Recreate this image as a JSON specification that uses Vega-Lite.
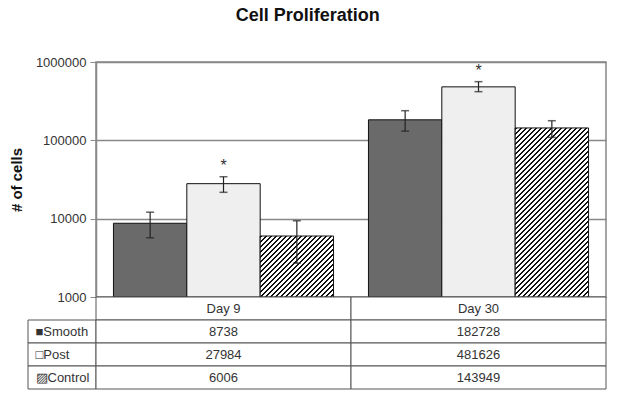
{
  "$schema": "https://vega.github.io/schema/vega-lite/v6.json",
  "background": "white",
  "padding": {"left": 8, "top": 7, "right": 5, "bottom": 5},
  "title": {"text": "Cell Proliferation", "anchor": "middle", "fontSize": 18, "fontWeight": "bold", "color": "#111", "font": "Liberation Sans", "offset": 30},
  "datasets": {
    "cells": [
      {"day": "Day 9", "series": "Smooth", "value": 8738, "lo": 5700, "hi": 12100, "sig": ""},
      {"day": "Day 9", "series": "Post", "value": 27984, "lo": 21700, "hi": 34300, "sig": "*"},
      {"day": "Day 9", "series": "Control", "value": 6006, "lo": 2700, "hi": 9400, "sig": ""},
      {"day": "Day 30", "series": "Smooth", "value": 182728, "lo": 131000, "hi": 239000, "sig": ""},
      {"day": "Day 30", "series": "Post", "value": 481626, "lo": 418000, "hi": 561000, "sig": "*"},
      {"day": "Day 30", "series": "Control", "value": 143949, "lo": 109000, "hi": 178000, "sig": ""}
    ]
  },
  "columns": 2,
  "spacing": 0,
  "bounds": "flush",
  "concat": [
    {
      "width": 68, "height": 235,
      "data": {"values": [{"a": 1}]},
      "mark": {"type": "text", "text": ""}
    },
    {
      "width": 510, "height": 235,
      "view": {"stroke": "#888", "strokeWidth": 1.5},
      "data": {"name": "cells"},
      "encoding": {
        "x": {"field": "day", "type": "nominal", "scale": {"domain": ["Day 9", "Day 30"], "paddingInner": 0.137, "paddingOuter": 0.0685}, "axis": null},
        "xOffset": {"field": "series", "type": "nominal", "scale": {"domain": ["Smooth", "Post", "Control"], "paddingInner": 0, "paddingOuter": 0}}
      },
      "layer": [
        {
          "transform": [{"filter": "datum.series != 'Control'"}],
          "mark": {"type": "bar", "stroke": "#111", "strokeWidth": 1},
          "encoding": {
            "y": {"field": "value", "type": "quantitative", "scale": {"type": "log", "domain": [1000, 1000000]},
              "axis": {"values": [1000, 10000, 100000, 1000000], "format": "d", "title": "# of cells", "titleFontSize": 15, "titleFontWeight": "bold", "titleColor": "#111", "titlePadding": 11, "labelFontSize": 13, "labelColor": "#333", "labelPadding": 4, "tickSize": 6, "tickColor": "#888", "domainColor": "#888", "domainWidth": 1.5, "grid": true, "gridColor": "#888", "gridWidth": 1.5}},
            "y2": {"datum": 1000},
            "color": {"field": "series", "type": "nominal", "scale": {"domain": ["Smooth", "Post"], "range": ["#6a6a6a", "#efefef"]}, "legend": null}
          }
        },
        {
          "transform": [{"filter": "datum.series == 'Control' && datum.day == 'Day 9'"}],
          "mark": {"type": "bar", "stroke": "#111", "strokeWidth": 1,
            "fill": {"gradient": "linear", "x1": 0, "y1": 0, "x2": 2.0148, "y2": 1.676, "stops": [
              {"offset":0,"color":"#111"},{"offset":0.01,"color":"#111"},{"offset":0.01,"color":"#fff"},{"offset":0.02,"color":"#fff"},
              {"offset":0.02,"color":"#111"},{"offset":0.03,"color":"#111"},{"offset":0.03,"color":"#fff"},{"offset":0.04,"color":"#fff"},
              {"offset":0.04,"color":"#111"},{"offset":0.05,"color":"#111"},{"offset":0.05,"color":"#fff"},{"offset":0.06,"color":"#fff"},
              {"offset":0.06,"color":"#111"},{"offset":0.07,"color":"#111"},{"offset":0.07,"color":"#fff"},{"offset":0.08,"color":"#fff"},
              {"offset":0.08,"color":"#111"},{"offset":0.09,"color":"#111"},{"offset":0.09,"color":"#fff"},{"offset":0.10,"color":"#fff"},
              {"offset":0.10,"color":"#111"},{"offset":0.11,"color":"#111"},{"offset":0.11,"color":"#fff"},{"offset":0.12,"color":"#fff"},
              {"offset":0.12,"color":"#111"},{"offset":0.13,"color":"#111"},{"offset":0.13,"color":"#fff"},{"offset":0.14,"color":"#fff"},
              {"offset":0.14,"color":"#111"},{"offset":0.15,"color":"#111"},{"offset":0.15,"color":"#fff"},{"offset":0.16,"color":"#fff"},
              {"offset":0.16,"color":"#111"},{"offset":0.17,"color":"#111"},{"offset":0.17,"color":"#fff"},{"offset":0.18,"color":"#fff"},
              {"offset":0.18,"color":"#111"},{"offset":0.19,"color":"#111"},{"offset":0.19,"color":"#fff"},{"offset":0.20,"color":"#fff"},
              {"offset":0.20,"color":"#111"},{"offset":0.21,"color":"#111"},{"offset":0.21,"color":"#fff"},{"offset":0.22,"color":"#fff"},
              {"offset":0.22,"color":"#111"},{"offset":0.23,"color":"#111"},{"offset":0.23,"color":"#fff"},{"offset":0.24,"color":"#fff"},
              {"offset":0.24,"color":"#111"},{"offset":0.25,"color":"#111"},{"offset":0.25,"color":"#fff"},{"offset":0.26,"color":"#fff"},
              {"offset":0.26,"color":"#111"},{"offset":0.27,"color":"#111"},{"offset":0.27,"color":"#fff"},{"offset":0.28,"color":"#fff"},
              {"offset":0.28,"color":"#111"},{"offset":0.29,"color":"#111"},{"offset":0.29,"color":"#fff"},{"offset":0.30,"color":"#fff"},
              {"offset":0.30,"color":"#111"},{"offset":0.31,"color":"#111"},{"offset":0.31,"color":"#fff"},{"offset":0.32,"color":"#fff"},
              {"offset":0.32,"color":"#111"},{"offset":0.33,"color":"#111"},{"offset":0.33,"color":"#fff"},{"offset":0.34,"color":"#fff"},
              {"offset":0.34,"color":"#111"},{"offset":0.35,"color":"#111"},{"offset":0.35,"color":"#fff"},{"offset":0.36,"color":"#fff"},
              {"offset":0.36,"color":"#111"},{"offset":0.37,"color":"#111"},{"offset":0.37,"color":"#fff"},{"offset":0.38,"color":"#fff"},
              {"offset":0.38,"color":"#111"},{"offset":0.39,"color":"#111"},{"offset":0.39,"color":"#fff"},{"offset":0.40,"color":"#fff"},
              {"offset":0.40,"color":"#111"},{"offset":0.41,"color":"#111"},{"offset":0.41,"color":"#fff"},{"offset":0.42,"color":"#fff"},
              {"offset":0.42,"color":"#111"},{"offset":0.43,"color":"#111"},{"offset":0.43,"color":"#fff"},{"offset":0.44,"color":"#fff"},
              {"offset":0.44,"color":"#111"},{"offset":0.45,"color":"#111"},{"offset":0.45,"color":"#fff"},{"offset":0.46,"color":"#fff"},
              {"offset":0.46,"color":"#111"},{"offset":0.47,"color":"#111"},{"offset":0.47,"color":"#fff"},{"offset":0.48,"color":"#fff"},
              {"offset":0.48,"color":"#111"},{"offset":0.49,"color":"#111"},{"offset":0.49,"color":"#fff"},{"offset":0.50,"color":"#fff"},
              {"offset":0.50,"color":"#111"},{"offset":0.51,"color":"#111"},{"offset":0.51,"color":"#fff"},{"offset":0.52,"color":"#fff"},
              {"offset":0.52,"color":"#111"},{"offset":0.53,"color":"#111"},{"offset":0.53,"color":"#fff"},{"offset":0.54,"color":"#fff"},
              {"offset":0.54,"color":"#111"},{"offset":0.55,"color":"#111"},{"offset":0.55,"color":"#fff"},{"offset":0.56,"color":"#fff"}
            ]}},
          "encoding": {"y": {"field": "value", "type": "quantitative"}, "y2": {"datum": 1000}}
        },
        {
          "transform": [{"filter": "datum.series == 'Control' && datum.day == 'Day 30'"}],
          "mark": {"type": "bar", "stroke": "#111", "strokeWidth": 1,
            "fill": {"gradient": "linear", "x1": 0, "y1": 0, "x2": 0.54016, "y2": 1.24489, "stops": [
              {"offset":0,"color":"#111"},{"offset":0.01,"color":"#111"},{"offset":0.01,"color":"#fff"},{"offset":0.02,"color":"#fff"},
              {"offset":0.02,"color":"#111"},{"offset":0.03,"color":"#111"},{"offset":0.03,"color":"#fff"},{"offset":0.04,"color":"#fff"},
              {"offset":0.04,"color":"#111"},{"offset":0.05,"color":"#111"},{"offset":0.05,"color":"#fff"},{"offset":0.06,"color":"#fff"},
              {"offset":0.06,"color":"#111"},{"offset":0.07,"color":"#111"},{"offset":0.07,"color":"#fff"},{"offset":0.08,"color":"#fff"},
              {"offset":0.08,"color":"#111"},{"offset":0.09,"color":"#111"},{"offset":0.09,"color":"#fff"},{"offset":0.10,"color":"#fff"},
              {"offset":0.10,"color":"#111"},{"offset":0.11,"color":"#111"},{"offset":0.11,"color":"#fff"},{"offset":0.12,"color":"#fff"},
              {"offset":0.12,"color":"#111"},{"offset":0.13,"color":"#111"},{"offset":0.13,"color":"#fff"},{"offset":0.14,"color":"#fff"},
              {"offset":0.14,"color":"#111"},{"offset":0.15,"color":"#111"},{"offset":0.15,"color":"#fff"},{"offset":0.16,"color":"#fff"},
              {"offset":0.16,"color":"#111"},{"offset":0.17,"color":"#111"},{"offset":0.17,"color":"#fff"},{"offset":0.18,"color":"#fff"},
              {"offset":0.18,"color":"#111"},{"offset":0.19,"color":"#111"},{"offset":0.19,"color":"#fff"},{"offset":0.20,"color":"#fff"},
              {"offset":0.20,"color":"#111"},{"offset":0.21,"color":"#111"},{"offset":0.21,"color":"#fff"},{"offset":0.22,"color":"#fff"},
              {"offset":0.22,"color":"#111"},{"offset":0.23,"color":"#111"},{"offset":0.23,"color":"#fff"},{"offset":0.24,"color":"#fff"},
              {"offset":0.24,"color":"#111"},{"offset":0.25,"color":"#111"},{"offset":0.25,"color":"#fff"},{"offset":0.26,"color":"#fff"},
              {"offset":0.26,"color":"#111"},{"offset":0.27,"color":"#111"},{"offset":0.27,"color":"#fff"},{"offset":0.28,"color":"#fff"},
              {"offset":0.28,"color":"#111"},{"offset":0.29,"color":"#111"},{"offset":0.29,"color":"#fff"},{"offset":0.30,"color":"#fff"},
              {"offset":0.30,"color":"#111"},{"offset":0.31,"color":"#111"},{"offset":0.31,"color":"#fff"},{"offset":0.32,"color":"#fff"},
              {"offset":0.32,"color":"#111"},{"offset":0.33,"color":"#111"},{"offset":0.33,"color":"#fff"},{"offset":0.34,"color":"#fff"},
              {"offset":0.34,"color":"#111"},{"offset":0.35,"color":"#111"},{"offset":0.35,"color":"#fff"},{"offset":0.36,"color":"#fff"},
              {"offset":0.36,"color":"#111"},{"offset":0.37,"color":"#111"},{"offset":0.37,"color":"#fff"},{"offset":0.38,"color":"#fff"},
              {"offset":0.38,"color":"#111"},{"offset":0.39,"color":"#111"},{"offset":0.39,"color":"#fff"},{"offset":0.40,"color":"#fff"},
              {"offset":0.40,"color":"#111"},{"offset":0.41,"color":"#111"},{"offset":0.41,"color":"#fff"},{"offset":0.42,"color":"#fff"},
              {"offset":0.42,"color":"#111"},{"offset":0.43,"color":"#111"},{"offset":0.43,"color":"#fff"},{"offset":0.44,"color":"#fff"},
              {"offset":0.44,"color":"#111"},{"offset":0.45,"color":"#111"},{"offset":0.45,"color":"#fff"},{"offset":0.46,"color":"#fff"},
              {"offset":0.46,"color":"#111"},{"offset":0.47,"color":"#111"},{"offset":0.47,"color":"#fff"},{"offset":0.48,"color":"#fff"},
              {"offset":0.48,"color":"#111"},{"offset":0.49,"color":"#111"},{"offset":0.49,"color":"#fff"},{"offset":0.50,"color":"#fff"},
              {"offset":0.50,"color":"#111"},{"offset":0.51,"color":"#111"},{"offset":0.51,"color":"#fff"},{"offset":0.52,"color":"#fff"},
              {"offset":0.52,"color":"#111"},{"offset":0.53,"color":"#111"},{"offset":0.53,"color":"#fff"},{"offset":0.54,"color":"#fff"},
              {"offset":0.54,"color":"#111"},{"offset":0.55,"color":"#111"},{"offset":0.55,"color":"#fff"},{"offset":0.56,"color":"#fff"},
              {"offset":0.56,"color":"#111"},{"offset":0.57,"color":"#111"},{"offset":0.57,"color":"#fff"},{"offset":0.58,"color":"#fff"},
              {"offset":0.58,"color":"#111"},{"offset":0.59,"color":"#111"},{"offset":0.59,"color":"#fff"},{"offset":0.60,"color":"#fff"},
              {"offset":0.60,"color":"#111"},{"offset":0.61,"color":"#111"},{"offset":0.61,"color":"#fff"},{"offset":0.62,"color":"#fff"},
              {"offset":0.62,"color":"#111"},{"offset":0.63,"color":"#111"},{"offset":0.63,"color":"#fff"},{"offset":0.64,"color":"#fff"},
              {"offset":0.64,"color":"#111"},{"offset":0.65,"color":"#111"},{"offset":0.65,"color":"#fff"},{"offset":0.66,"color":"#fff"},
              {"offset":0.66,"color":"#111"},{"offset":0.67,"color":"#111"},{"offset":0.67,"color":"#fff"},{"offset":0.68,"color":"#fff"},
              {"offset":0.68,"color":"#111"},{"offset":0.69,"color":"#111"},{"offset":0.69,"color":"#fff"},{"offset":0.70,"color":"#fff"},
              {"offset":0.70,"color":"#111"},{"offset":0.71,"color":"#111"},{"offset":0.71,"color":"#fff"},{"offset":0.72,"color":"#fff"},
              {"offset":0.72,"color":"#111"},{"offset":0.73,"color":"#111"},{"offset":0.73,"color":"#fff"},{"offset":0.74,"color":"#fff"},
              {"offset":0.74,"color":"#111"},{"offset":0.75,"color":"#111"},{"offset":0.75,"color":"#fff"},{"offset":0.76,"color":"#fff"},
              {"offset":0.76,"color":"#111"},{"offset":0.77,"color":"#111"},{"offset":0.77,"color":"#fff"},{"offset":0.78,"color":"#fff"},
              {"offset":0.78,"color":"#111"},{"offset":0.79,"color":"#111"},{"offset":0.79,"color":"#fff"},{"offset":0.80,"color":"#fff"},
              {"offset":0.80,"color":"#111"},{"offset":0.81,"color":"#111"},{"offset":0.81,"color":"#fff"},{"offset":0.82,"color":"#fff"},
              {"offset":0.82,"color":"#111"},{"offset":0.83,"color":"#111"},{"offset":0.83,"color":"#fff"},{"offset":0.84,"color":"#fff"},
              {"offset":0.84,"color":"#111"},{"offset":0.85,"color":"#111"},{"offset":0.85,"color":"#fff"},{"offset":0.86,"color":"#fff"},
              {"offset":0.86,"color":"#111"},{"offset":0.87,"color":"#111"},{"offset":0.87,"color":"#fff"},{"offset":0.88,"color":"#fff"},
              {"offset":0.88,"color":"#111"},{"offset":0.89,"color":"#111"},{"offset":0.89,"color":"#fff"},{"offset":0.90,"color":"#fff"},
              {"offset":0.90,"color":"#111"},{"offset":0.91,"color":"#111"},{"offset":0.91,"color":"#fff"},{"offset":0.92,"color":"#fff"},
              {"offset":0.92,"color":"#111"},{"offset":0.93,"color":"#111"},{"offset":0.93,"color":"#fff"},{"offset":0.94,"color":"#fff"},
              {"offset":0.94,"color":"#111"},{"offset":0.95,"color":"#111"},{"offset":0.95,"color":"#fff"},{"offset":0.96,"color":"#fff"},
              {"offset":0.96,"color":"#111"},{"offset":0.97,"color":"#111"},{"offset":0.97,"color":"#fff"},{"offset":0.98,"color":"#fff"},
              {"offset":0.98,"color":"#111"},{"offset":0.99,"color":"#111"},{"offset":0.99,"color":"#fff"},{"offset":1,"color":"#fff"}
            ]}},
          "encoding": {"y": {"field": "value", "type": "quantitative"}, "y2": {"datum": 1000}}
        },
        {
          "mark": {"type": "rule", "color": "#222", "strokeWidth": 1.2},
          "encoding": {"y": {"field": "lo", "type": "quantitative"}, "y2": {"field": "hi"}}
        },
        {
          "mark": {"type": "tick", "color": "#222", "size": 8, "thickness": 1.5},
          "encoding": {"y": {"field": "lo", "type": "quantitative"}}
        },
        {
          "mark": {"type": "tick", "color": "#222", "size": 8, "thickness": 1.5},
          "encoding": {"y": {"field": "hi", "type": "quantitative"}}
        },
        {
          "mark": {"type": "text", "baseline": "bottom", "dy": -3, "fontSize": 16, "color": "#333", "font": "Liberation Sans"},
          "encoding": {"y": {"field": "hi", "type": "quantitative"}, "text": {"field": "sig"}}
        }
      ]
    },
    {
      "width": 68, "height": 92,
      "data": {"values": [{"row": "Smooth"}, {"row": "Post"}, {"row": "Control"}]},
      "mark": {"type": "rect", "fill": "white", "stroke": "#555", "strokeWidth": 1},
      "encoding": {
        "y": {"field": "row", "type": "nominal", "scale": {"domain": ["Header", "Smooth", "Post", "Control"], "paddingInner": 0, "paddingOuter": 0},
          "axis": {"title": null, "domain": false, "ticks": false, "zindex": 1, "labelAlign": "left", "labelPadding": -7, "labelFontSize": 13, "labelColor": "#333", "labelFont": "Liberation Sans",
            "labelExpr": "datum.value == 'Smooth' ? '■Smooth' : datum.value == 'Post' ? '□Post' : datum.value == 'Control' ? '▨Control' : ''"}}
      }
    },
    {
      "width": 510, "height": 92,
      "encoding": {
        "x": {"field": "day", "type": "nominal", "scale": {"domain": ["Day 9", "Day 30"], "paddingInner": 0, "paddingOuter": 0}, "axis": null}
      },
      "layer": [
        {
          "data": {"values": [{"day": "Day 9", "row": "Header"}, {"day": "Day 30", "row": "Header"}]},
          "mark": {"type": "rect", "fill": "white", "stroke": "#555", "strokeWidth": 1},
          "encoding": {"y": {"field": "row", "type": "nominal", "scale": {"domain": ["Header", "Smooth", "Post", "Control"], "paddingInner": 0, "paddingOuter": 0}, "axis": null}}
        },
        {
          "data": {"values": [{"day": "Day 9", "row": "Header"}, {"day": "Day 30", "row": "Header"}]},
          "mark": {"type": "text", "fontSize": 13, "color": "#333", "font": "Liberation Sans"},
          "encoding": {"y": {"field": "row", "type": "nominal"}, "text": {"field": "day"}}
        },
        {
          "data": {"name": "cells"},
          "mark": {"type": "rect", "fill": "white", "stroke": "#555", "strokeWidth": 1},
          "encoding": {"y": {"field": "series", "type": "nominal"}}
        },
        {
          "data": {"name": "cells"},
          "mark": {"type": "text", "fontSize": 13, "color": "#333", "font": "Liberation Sans"},
          "encoding": {"y": {"field": "series", "type": "nominal"}, "text": {"field": "value", "type": "quantitative", "format": "d"}}
        }
      ]
    }
  ],
  "config": {
    "view": {"stroke": null},
    "font": "Liberation Sans"
  }
}
